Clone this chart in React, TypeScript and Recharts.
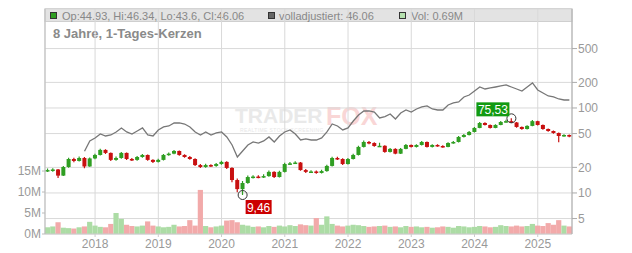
import React from "react";
import {
  ComposedChart,
  Bar,
  Line,
  XAxis,
  YAxis,
  CartesianGrid,
  ReferenceDot,
} from "recharts";

// monthly candles, Apr 2017 .. Jul 2025
const FIRST_OPEN = 18.0;

const CLOSE = [
  18.6, 18.9, 16.0, 20.2, 25.1, 23.8, 25.8, 20.5, 25.5, 28.0,
  32.1, 29.6, 24.5, 25.8, 29.6, 25.1, 24.5, 26.5, 28.0, 24.5,
  23.2, 24.5, 28.0, 29.0, 31.2, 28.0, 26.5, 25.1, 21.3, 20.2,
  21.3, 20.8, 21.9, 23.2, 19.7, 14.2, 11.1, 13.1, 15.4, 15.6,
  15.4, 15.8, 17.7, 15.4, 17.7, 21.9, 22.3, 22.8, 18.6, 17.7,
  17.9, 17.2, 18.1, 20.8, 25.8, 25.1, 21.9, 25.1, 28.0, 34.8,
  39.8, 38.7, 35.7, 35.9, 30.4, 33.0, 29.0, 33.0, 36.7, 34.8,
  36.7, 39.8, 34.8, 36.7, 35.7, 34.8, 38.7, 39.8, 45.6, 48.1,
  52.2, 58.2, 66.6, 63.1, 58.2, 63.1, 68.4, 70.0, 67.5, 59.8,
  56.6, 61.5, 70.0, 63.1, 56.6, 53.6, 50.8, 46.8, 48.1, 46.06,
];

const HIGH = [
  19.4, 19.6, 19.2, 20.8, 26.0, 26.0, 26.8, 26.5, 26.2, 29.0,
  33.2, 32.8, 30.0, 26.8, 30.4, 30.0, 25.8, 27.3, 28.8, 28.4,
  25.0, 25.3, 28.7, 30.0, 32.0, 31.6, 28.6, 27.2, 25.6, 21.9,
  22.0, 21.8, 22.5, 23.9, 23.6, 20.1, 14.8, 13.8, 16.0, 16.2,
  16.2, 16.6, 18.4, 18.0, 18.3, 22.6, 23.2, 23.6, 23.1, 19.2,
  18.5, 18.4, 18.7, 21.5, 26.6, 26.7, 25.6, 25.8, 28.9, 35.9,
  41.3, 41.0, 39.6, 39.0, 36.4, 33.9, 33.5, 33.8, 37.6, 37.2,
  37.5, 40.8, 40.2, 37.5, 37.4, 36.4, 39.5, 41.0, 46.8, 49.5,
  53.6, 59.8, 68.5, 67.8, 63.8, 64.5, 70.2, 72.5, 75.53, 68.2,
  60.5, 62.6, 72.0, 70.6, 63.8, 57.4, 54.3, 51.4, 49.2, 48.8,
];

const LOW = [
  17.6, 17.8, 15.0, 15.8, 19.8, 23.0, 23.4, 19.6, 20.3, 25.0,
  27.6, 28.8, 23.8, 24.0, 25.3, 24.5, 23.8, 24.0, 26.0, 23.9,
  22.5, 22.8, 24.1, 27.4, 28.6, 27.5, 26.0, 24.6, 20.8, 19.7,
  19.8, 20.2, 20.4, 21.5, 19.2, 13.4, 10.2, 9.46, 12.8, 14.8,
  14.9, 15.0, 15.5, 15.0, 15.2, 17.4, 21.3, 21.9, 18.2, 17.2,
  17.2, 16.8, 16.9, 17.8, 20.5, 24.4, 21.3, 21.6, 24.7, 27.6,
  34.2, 37.5, 35.0, 34.8, 29.8, 30.0, 28.5, 28.7, 32.6, 34.2,
  34.3, 36.2, 34.2, 34.3, 35.0, 34.0, 34.4, 38.0, 39.2, 45.0,
  47.5, 51.5, 57.6, 62.0, 57.3, 57.6, 62.5, 67.0, 66.5, 58.6,
  55.4, 55.8, 61.0, 62.0, 55.6, 52.6, 49.8, 39.5, 45.8, 45.2,
];

// "volladjustiert" grey line (starts late 2017)
const ADJ = [
  null, null, null, null, null, null, null, 31.0, 40.9, 44.4,
  49.4, 46.8, 48.1, 52.2, 58.2, 52.2, 49.4, 53.6, 58.2, 48.1,
  46.8, 55.1, 59.8, 61.4, 66.6, 66.6, 64.8, 59.8, 52.2, 48.1,
  52.2, 48.1, 50.8, 52.2, 45.6, 36.7, 26.5, 31.2, 36.7, 39.8,
  38.7, 40.9, 45.6, 39.8, 46.8, 52.2, 55.1, 49.4, 42.0, 43.2,
  42.0, 42.0, 44.4, 52.2, 64.8, 61.4, 55.1, 58.2, 70.3, 82.7,
  92.2, 92.2, 89.7, 76.3, 79.3, 85.0, 74.3, 87.3, 94.7, 89.7,
  97.3, 102.8, 105.6, 97.3, 94.7, 94.7, 108.5, 114.5, 117.6, 134.7,
  142.2, 158.3, 176.6, 167.3, 171.9, 176.6, 181.5, 186.5, 176.6, 167.3,
  158.3, 176.6, 196.9, 162.8, 150.2, 138.5, 134.7, 127.6, 124.2, 124.2,
];

// volume in millions
const VOLUME = [
  1.6, 1.8, 2.8, 1.5, 1.4, 1.3, 1.6, 1.8, 2.9, 2.0,
  1.7, 1.6, 2.4, 5.0, 3.6, 2.2, 1.9, 1.8, 2.0, 3.0,
  2.0, 1.8, 1.6, 1.7, 2.2, 1.8, 1.9, 3.3, 2.0, 10.5,
  1.9, 1.6, 1.8, 2.0, 3.2, 3.3, 2.8, 2.2, 2.0, 1.7,
  1.8, 1.6, 1.9, 1.7, 2.0, 1.8, 2.1, 1.9, 2.3, 2.1,
  2.0, 3.8, 2.2, 4.2, 2.4, 2.0, 1.8, 2.0, 2.2, 2.1,
  1.9, 1.7, 1.8, 1.9, 2.0, 1.7, 1.8, 1.6, 1.9, 1.7,
  1.8, 1.6, 1.7, 1.5, 1.6, 1.8, 1.7, 1.5, 1.9, 1.8,
  1.6, 1.7, 1.9, 1.8, 1.6, 1.7, 2.1, 1.9, 1.8, 2.0,
  1.8, 1.9, 2.4, 2.0, 1.9, 2.6, 2.2, 3.3, 2.0, 1.8,
];

// last trading day shown in the legend
const LAST_DAY = { open: 44.93, high: 46.34, low: 43.6, close: 46.06, adj: 46.06, vol: 0.69 };

const PRICE_TICKS = [5, 10, 20, 50, 100, 200, 500];
const VOLUME_TICKS = [0, 5, 10, 15];
const YEAR_TICKS = [
  "2018-01", "2019-01", "2020-01", "2021-01",
  "2022-01", "2023-01", "2024-01", "2025-01",
];

const MONTHS = CLOSE.map((_, i) => {
  const m = 3 + i;
  return `${2017 + Math.floor(m / 12)}-${String((m % 12) + 1).padStart(2, "0")}`;
});

const data = CLOSE.map((close, i) => {
  const open = i === 0 ? FIRST_OPEN : CLOSE[i - 1];
  return {
    month: MONTHS[i],
    open,
    close,
    high: HIGH[i],
    low: LOW[i],
    adj: ADJ[i],
    vol: VOLUME[i],
  };
});

const hiIdx = HIGH.indexOf(Math.max(...HIGH));
const loIdx = LOW.indexOf(Math.min(...LOW));
const fmt = (v: number) => v.toFixed(2).replace(".", ",");

const GREEN = "#2f9e22";
const RED = "#c81010";
const FONT = "'Liberation Sans', Arial, sans-serif";

function Candle(props: any) {
  const { x, y, width, height, payload } = props;
  if (x == null || y == null || !payload) return null;
  const top = Math.min(y, y + height);
  const bottom = Math.max(y, y + height);
  const { open, close, high, low } = payload;
  const span = Math.log(high) - Math.log(low);
  const toY = (v: number) =>
    span > 0 ? top + ((Math.log(high) - Math.log(v)) / span) * (bottom - top) : top;
  const cx = x + width / 2;
  const color = close >= open ? GREEN : RED;
  const y1 = toY(Math.max(open, close));
  const y2 = toY(Math.min(open, close));
  return (
    <g>
      <line x1={cx} x2={cx} y1={top} y2={bottom} stroke={color} strokeWidth={1.2} />
      <rect x={cx - 2} y={y1} width={4} height={Math.max(1.5, y2 - y1)} fill={color} />
    </g>
  );
}

function VolumeBar(props: any) {
  const { x, y, width, height, payload } = props;
  if (x == null || y == null || !payload) return null;
  const color = payload.close >= payload.open ? "#acdca5" : "#f2aaaa";
  const cx = x + width / 2;
  return <rect x={cx - 2.6} y={y} width={5.2} height={Math.max(0, height)} fill={color} />;
}

function HighMark(props: any) {
  const { cx, cy } = props;
  return (
    <g>
      <circle cx={cx} cy={cy} r={4.5} fill="none" stroke="#333" strokeWidth={1} />
      <rect x={cx - 35} y={cy - 16} width={33} height={14} fill="#129a12" />
      <text x={cx - 18.5} y={cy - 4.5} fill="#fff" fontSize={12} textAnchor="middle" fontFamily={FONT}>
        {fmt(HIGH[hiIdx])}
      </text>
    </g>
  );
}

function LowMark(props: any) {
  const { cx, cy } = props;
  return (
    <g>
      <circle cx={cx} cy={cy} r={4.5} fill="none" stroke="#333" strokeWidth={1} />
      <rect x={cx + 3} y={cy + 5} width={26} height={14} fill="#cc0000" />
      <text x={cx + 16} y={cy + 16.5} fill="#fff" fontSize={12} textAnchor="middle" fontFamily={FONT}>
        {fmt(LOW[loIdx])}
      </text>
    </g>
  );
}

export default function App() {
  return (
    <div style={{ position: "relative", width: 624, height: 245, fontFamily: FONT }}>
      <svg width={624} height={245} style={{ position: "absolute", left: 0, top: 0 }}>
        <rect x={37} y={0.5} width={527} height={13} fill="#e3e3e3" stroke="#cfcfcf" strokeWidth={1} />
        <rect x={42.5} y={4.5} width={6} height={6} fill={GREEN} stroke="#333" />
        <text x={54} y={11.5} fontSize={11} fill="#888">
          {`Op:${LAST_DAY.open}, Hi:${LAST_DAY.high}, Lo:${LAST_DAY.low}, Cl:${LAST_DAY.close}`}
        </text>
        <rect x={260.5} y={4.5} width={6} height={6} fill="#666" stroke="#333" />
        <text x={271} y={11.5} fontSize={11} fill="#888">
          {`volladjustiert: ${LAST_DAY.adj}`}
        </text>
        <rect x={391.5} y={4.5} width={6} height={6} fill="#b5e0ae" stroke="#333" />
        <text x={403} y={11.5} fontSize={11} fill="#888">{`Vol: ${LAST_DAY.vol}M`}</text>
        <text x={45} y={30} fontSize={13} fontWeight="bold" fill="#8a8a8a">
          8 Jahre, 1-Tages-Kerzen
        </text>
        <text x={227} y={115} fontSize={21} fontWeight="bold" fill="#e9e9e9">TRADER</text>
        <text x={318} y={117} fontSize={25} fontWeight="bold" fill="#f9d6d6">FOX</text>
        <text x={232} y={124} fontSize={5} letterSpacing={0.4} fill="#e6e6e6">
          REALTIME STOCK SCREENING
        </text>
      </svg>
      <div style={{ position: "absolute", left: 0, top: 0 }}>
        <ComposedChart
          width={624}
          height={245}
          data={data}
          margin={{ top: 1, right: 0, bottom: 0, left: 0 }}
        >
          <CartesianGrid xAxisId="main" yAxisId="price" stroke="#d9d9d9" />
          <XAxis
            xAxisId="main"
            dataKey="month"
            ticks={YEAR_TICKS}
            interval={0}
            tickFormatter={(m: string) => m.slice(0, 4)}
            height={19}
            tickSize={3}
            stroke="#cccccc"
            tick={{ fill: "#999", fontSize: 12 }}
          />
          <XAxis xAxisId="vol" dataKey="month" hide />
          <YAxis
            yAxisId="vol"
            orientation="left"
            width={37}
            domain={[0, 53.6]}
            ticks={VOLUME_TICKS}
            interval={0}
            tickFormatter={(v: number) => `${v}M`}
            tickSize={3}
            tickMargin={1}
            stroke="#bbbbbb"
            tick={{ fill: "#999", fontSize: 12 }}
          />
          <YAxis
            yAxisId="price"
            orientation="right"
            width={60}
            scale="log"
            domain={[3.29, 1461]}
            allowDataOverflow
            ticks={PRICE_TICKS}
            interval={0}
            tickSize={5}
            tickMargin={1}
            stroke="#aaaaaa"
            tick={{ fill: "#999", fontSize: 12 }}
          />
          <Bar
            xAxisId="vol"
            yAxisId="vol"
            dataKey="vol"
            shape={VolumeBar}
            isAnimationActive={false}
          />
          <Line
            xAxisId="main"
            yAxisId="price"
            dataKey="adj"
            stroke="#777"
            strokeWidth={1.3}
            dot={false}
            connectNulls={false}
            isAnimationActive={false}
          />
          <Bar
            xAxisId="main"
            yAxisId="price"
            dataKey={(d: any) => [d.low, d.high]}
            shape={Candle}
            isAnimationActive={false}
          />
          <ReferenceDot
            xAxisId="main"
            yAxisId="price"
            x={MONTHS[hiIdx]}
            y={HIGH[hiIdx]}
            shape={HighMark}
          />
          <ReferenceDot
            xAxisId="main"
            yAxisId="price"
            x={MONTHS[loIdx]}
            y={LOW[loIdx]}
            shape={LowMark}
          />
        </ComposedChart>
      </div>
    </div>
  );
}
